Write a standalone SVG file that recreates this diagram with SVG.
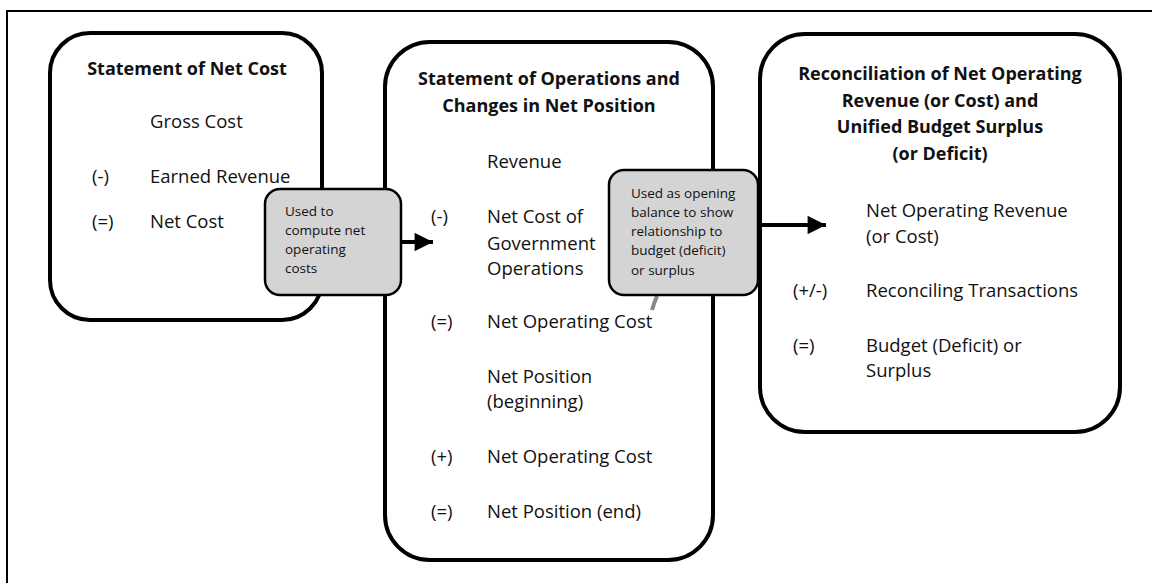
<svg xmlns="http://www.w3.org/2000/svg" width="1153" height="583" viewBox="0 0 1153 583">
<defs>
<style>
.box{fill:#fff;stroke:#000;stroke-width:4}
.call{fill:#d4d4d4;stroke:#000;stroke-width:2.5}
.t{font-family:"Open Sans","Liberation Sans",sans-serif;font-size:18.5px;fill:#111}
.h{font-family:"Open Sans","Liberation Sans",sans-serif;font-size:18px;font-weight:bold;fill:#111;text-anchor:middle}
.s{font-family:"Open Sans","Liberation Sans",sans-serif;font-size:13.5px;fill:#111}
.con{stroke:#000;stroke-width:4;fill:none}
</style>
<marker id="ah" viewBox="0 0 10 10" refX="10" refY="5" markerWidth="5" markerHeight="4.6" markerUnits="strokeWidth" orient="auto">
<path d="M0,0 L10,5 L0,10 Z" fill="#000"/>
</marker>
</defs>
<rect width="1153" height="583" fill="#fff"/>
<path d="M7,583 V11 H1152" fill="none" stroke="#000" stroke-width="2"/>

<g id="box-net-cost">
<rect class="box" x="50" y="33" width="272" height="287" rx="40"/>
<text class="h" x="187" y="75">Statement of Net Cost</text>
<text class="t" x="150" y="128">Gross Cost</text>
<text class="t" x="92" y="183">(-)</text>
<text class="t" x="150" y="183">Earned Revenue</text>
<text class="t" x="92" y="228">(=)</text>
<text class="t" x="150" y="228">Net Cost</text>
</g>

<g id="box-operations">
<rect class="box" x="385" y="42" width="328" height="518" rx="45"/>
<text class="h" x="549" y="85">Statement of Operations and</text>
<text class="h" x="549" y="112">Changes in Net Position</text>
<text class="t" x="487" y="168">Revenue</text>
<text class="t" x="431" y="223">(-)</text>
<text class="t" x="487" y="223">Net Cost of</text>
<text class="t" x="487" y="250">Government</text>
<text class="t" x="487" y="275">Operations</text>
<text class="t" x="431" y="328">(=)</text>
<text class="t" x="487" y="328">Net Operating Cost</text>
<text class="t" x="487" y="383">Net Position</text>
<text class="t" x="487" y="408">(beginning)</text>
<text class="t" x="431" y="463">(+)</text>
<text class="t" x="487" y="463">Net Operating Cost</text>
<text class="t" x="431" y="518">(=)</text>
<text class="t" x="487" y="518">Net Position (end)</text>
</g>

<g id="box-reconciliation">
<rect class="box" x="760" y="34" width="360" height="398" rx="45"/>
<text class="h" x="940" y="80">Reconciliation of Net Operating</text>
<text class="h" x="940" y="107">Revenue (or Cost) and</text>
<text class="h" x="940" y="133">Unified Budget Surplus</text>
<text class="h" x="940" y="160">(or Deficit)</text>
<text class="t" x="866" y="217">Net Operating Revenue</text>
<text class="t" x="866" y="243">(or Cost)</text>
<text class="t" x="793" y="297">(+/-)</text>
<text class="t" x="866" y="297">Reconciling Transactions</text>
<text class="t" x="793" y="352">(=)</text>
<text class="t" x="866" y="352">Budget (Deficit) or</text>
<text class="t" x="866" y="377">Surplus</text>
</g>

<g id="connectors">
<line class="con" x1="400" y1="242" x2="433" y2="242" marker-end="url(#ah)"/>
<line class="con" x1="758" y1="225" x2="826" y2="225" marker-end="url(#ah)"/>
<path d="M657,296 Q654,303 652,310" fill="none" stroke="#888" stroke-width="4"/>
</g>

<g id="callout-compute">
<rect class="call" x="265" y="189" width="136" height="106" rx="15"/>
<text class="s" x="285" y="216">Used to</text>
<text class="s" x="285" y="235">compute net</text>
<text class="s" x="285" y="254">operating</text>
<text class="s" x="285" y="273">costs</text>
</g>

<g id="callout-opening">
<rect class="call" x="609" y="170" width="149" height="125" rx="15"/>
<text class="s" x="631" y="198">Used as opening</text>
<text class="s" x="631" y="217">balance to show</text>
<text class="s" x="631" y="236">relationship to</text>
<text class="s" x="631" y="255">budget (deficit)</text>
<text class="s" x="631" y="275">or surplus</text>
</g>
</svg>
